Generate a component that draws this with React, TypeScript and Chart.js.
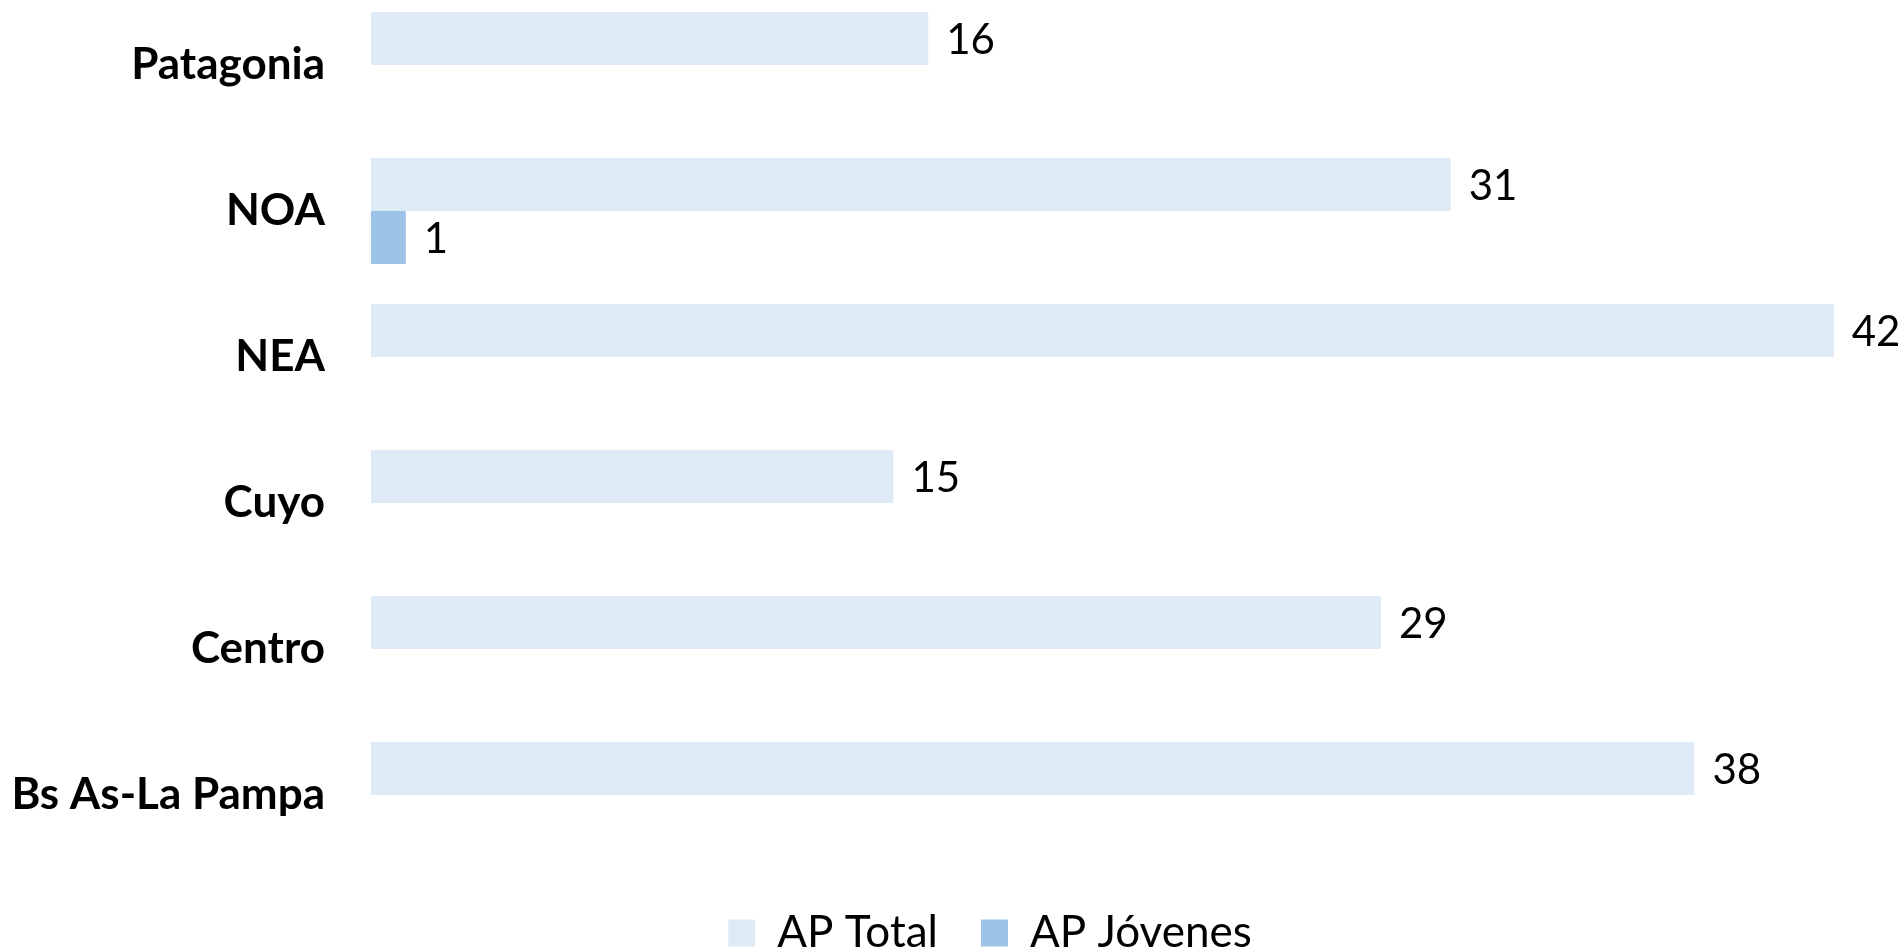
import React, { useEffect, useRef } from "react";
import { Chart, registerables } from "chart.js";

Chart.register(...registerables);

const categories = ["Patagonia", "NOA", "NEA", "Cuyo", "Centro", "Bs As-La Pampa"];
const apTotal = [16, 31, 42, 15, 29, 38];
const apJovenes = [null, 1, null, null, null, null];
const seriesNames = ["AP Total", "AP Jóvenes"];
const xMax = 46.2;

const FONT = "Lato, 'Open Sans', sans-serif";
const W = 1980;
const H = 973;

const valueLabels = {
  id: "valueLabels",
  afterDatasetsDraw(chart: any) {
    const ctx = chart.ctx;
    ctx.save();
    ctx.font = `42px ${FONT}`;
    ctx.fillStyle = "#000000";
    ctx.textAlign = "left";
    ctx.textBaseline = "middle";
    chart.data.datasets.forEach((ds: any, di: number) => {
      const meta = chart.getDatasetMeta(di);
      meta.data.forEach((bar: any, i: number) => {
        const v = ds.data[i];
        if (v === null || v === undefined) return;
        ctx.fillText(String(v), bar.x + 18, bar.y + 2);
      });
    });
    ctx.restore();
  },
};

export default function App() {
  const ref = useRef<HTMLCanvasElement | null>(null);

  useEffect(() => {
    if (!ref.current) return;
    const chart = new Chart(ref.current, {
      type: "bar",
      data: {
        labels: categories,
        datasets: [
          {
            label: seriesNames[0],
            data: apTotal,
            backgroundColor: "#DEEAF6",
            borderWidth: 0,
          },
          {
            label: seriesNames[1],
            data: apJovenes as any,
            backgroundColor: "#9DC3E6",
            borderWidth: 0,
          },
        ],
      },
      options: {
        indexAxis: "y",
        responsive: false,
        animation: false,
        devicePixelRatio: 1,
        layout: { padding: 0 },
        datasets: {
          bar: { categoryPercentage: 0.726, barPercentage: 1.0 },
        },
        scales: {
          x: {
            type: "linear",
            min: 0,
            max: xMax,
            display: false,
          },
          y: {
            type: "category",
            grid: { display: false, drawTicks: true, tickLength: 46 },
            border: { display: false },
            ticks: {
              autoSkip: false,
              padding: 0,
              color: "#000000",
              font: { family: FONT, size: 44, weight: "bold" },
            },
            afterFit: (scale: any) => {
              scale.width = 371;
              scale.paddingTop = 0;
              scale.paddingBottom = 0;
            },
          },
        },
        plugins: {
          legend: {
            position: "bottom",
            labels: {
              boxWidth: 27,
              boxHeight: 27,
              padding: 43,
              color: "#000000",
              font: { family: FONT, size: 44 },
            },
          },
          tooltip: { enabled: false },
        },
      },
      plugins: [valueLabels],
    });
    return () => chart.destroy();
  }, []);

  return (
    <div style={{ position: "fixed", left: 0, top: -8, width: W, height: H }}>
      <canvas ref={ref} width={W} height={H} style={{ display: "block", width: W, height: H }} />
    </div>
  );
}
